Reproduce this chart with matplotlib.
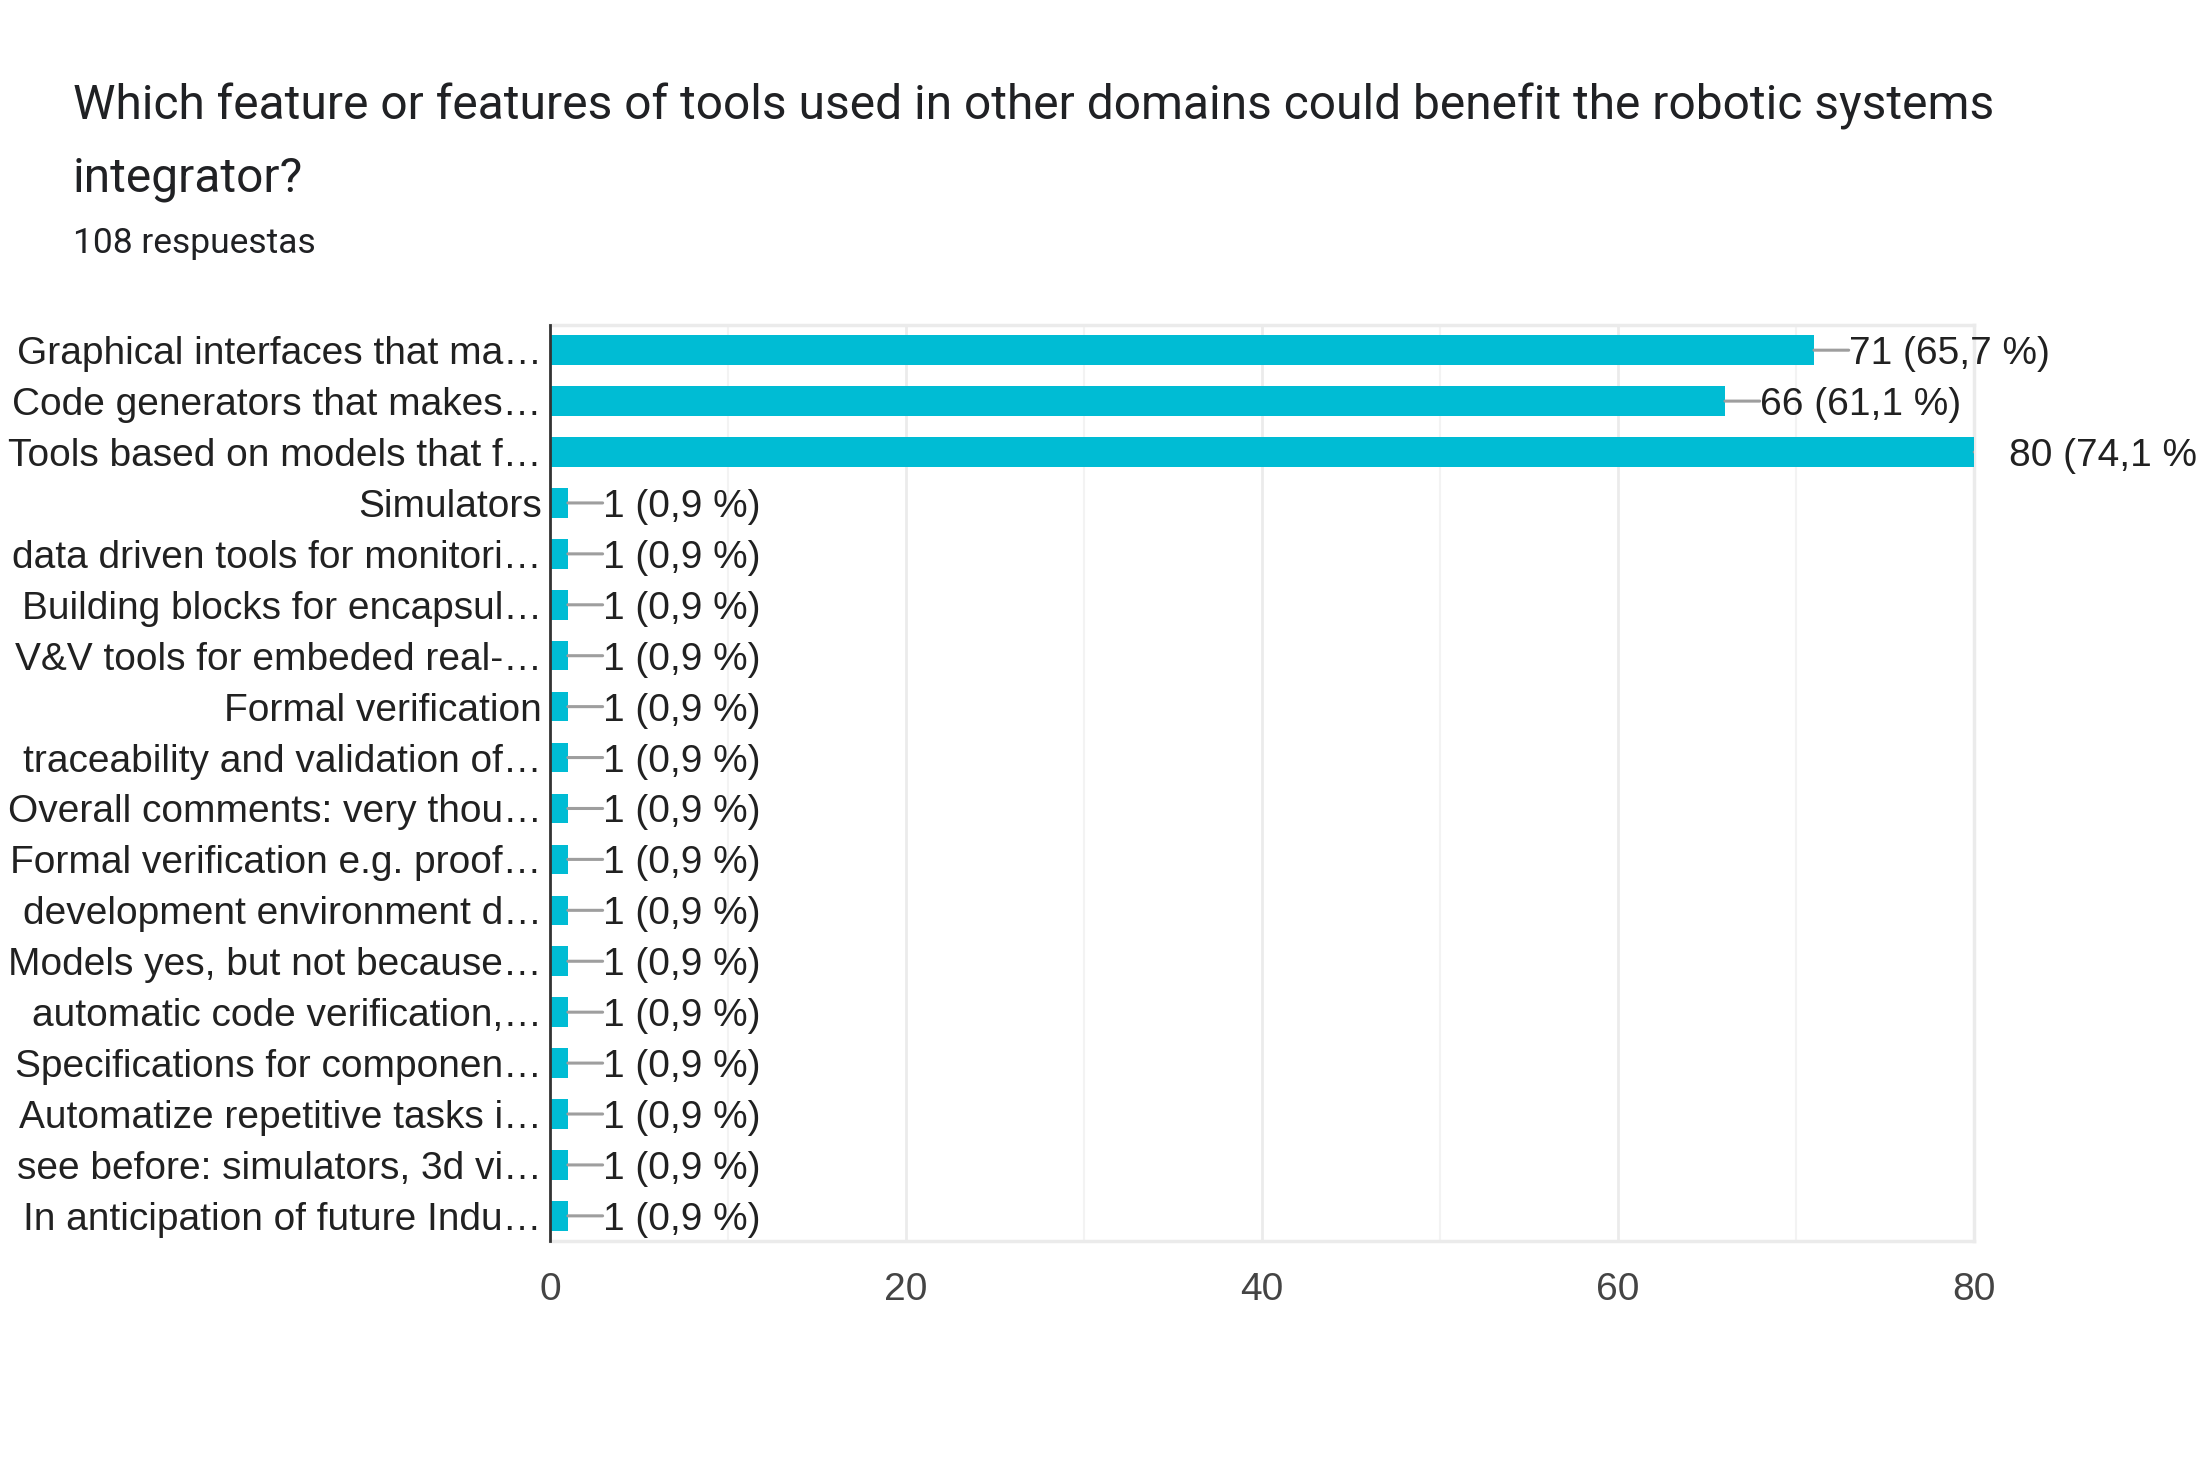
import matplotlib
matplotlib.use("Agg")
import matplotlib.pyplot as plt
from matplotlib.ticker import MultipleLocator

title_line1 = "Which feature or features of tools used in other domains could benefit the robotic systems"
title_line2 = "integrator?"
subtitle = "108 respuestas"
total = 108

categories = [
    "Graphical interfaces that ma\u2026",
    "Code generators that makes\u2026",
    "Tools based on models that f\u2026",
    "Simulators",
    "data driven tools for monitori\u2026",
    "Building blocks for encapsul\u2026",
    "V&V tools for embeded real-\u2026",
    "Formal verification",
    "traceability and validation of\u2026",
    "Overall comments: very thou\u2026",
    "Formal verification e.g. proof\u2026",
    "development environment d\u2026",
    "Models yes, but not because\u2026",
    "automatic code verification,\u2026",
    "Specifications for componen\u2026",
    "Automatize repetitive tasks i\u2026",
    "see before: simulators, 3d vi\u2026",
    "In anticipation of future Indu\u2026",
]
values = [71, 66, 80, 1, 1, 1, 1, 1, 1, 1, 1, 1, 1, 1, 1, 1, 1, 1]
x_ticks = [0, 20, 40, 60, 80]

BAR = "#00bcd4"
TXT = "#212121"
chart_font = ["Liberation Sans", "DejaVu Sans"]
title_font = ["Roboto", "DejaVu Sans"]

fig = plt.figure(figsize=(21.96, 14.76), dpi=100)
ax = fig.add_axes([0.2505, 0.159, 0.899 - 0.2505, 0.780 - 0.159])

ypos = list(range(len(categories)))
ax.barh(ypos, values, height=0.58, color=BAR, zorder=3)
ax.set_ylim(len(categories) - 0.5, -0.5)
ax.set_xlim(0, 80)

ax.set_yticks(ypos)
ax.set_yticklabels(categories, fontsize=28, color=TXT, family=chart_font,
                   va="center_baseline")
ax.tick_params(axis="y", length=0, pad=6)
ax.set_xticks(x_ticks)
ax.set_xticklabels([str(t) for t in x_ticks], fontsize=28, color="#444444", family=chart_font)
ax.tick_params(axis="x", length=0, pad=22)

ax.xaxis.set_minor_locator(MultipleLocator(10))
ax.tick_params(axis="x", which="minor", length=0)
ax.grid(axis="x", which="major", color="#ebebeb", linewidth=2, zorder=0)
ax.grid(axis="x", which="minor", color="#f3f3f3", linewidth=1.5, zorder=0)

for s in ["top", "right", "bottom"]:
    ax.spines[s].set_color("#ebebeb")
    ax.spines[s].set_linewidth(2.5)
ax.spines["left"].set_color("#333333")
ax.spines["left"].set_linewidth(2)
ax.spines["left"].set_zorder(5)

for y, v in zip(ypos, values):
    lbl = f"{v} ({v / total * 100:.1f} %)".replace(".", ",")
    leader = ax.annotate("", xy=(v, y), xytext=(25, 0), textcoords="offset points",
                         annotation_clip=False,
                         arrowprops=dict(arrowstyle="-", color="#9e9e9e", lw=2.2,
                                         shrinkA=0, shrinkB=0))
    leader.arrow_patch.set_clip_box(ax.bbox)
    leader.arrow_patch.set_clip_on(True)
    ax.annotate(lbl, xy=(v, y), xytext=(25, 0), textcoords="offset points",
                ha="left", va="center_baseline", fontsize=28, color=TXT,
                family=chart_font, annotation_clip=False)

fig.text(73 / 2196, 1 - 106 / 1476, title_line1, fontsize=34.5, color="#202124",
         family=title_font, va="center", ha="left")
fig.text(73 / 2196, 1 - 179 / 1476, title_line2, fontsize=34.5, color="#202124",
         family=title_font, va="center", ha="left")
fig.text(73 / 2196, 1 - 243 / 1476, subtitle, fontsize=25.5, color="#202124",
         family=title_font, va="center", ha="left")

fig.savefig("out.png", dpi=100, facecolor="white")
